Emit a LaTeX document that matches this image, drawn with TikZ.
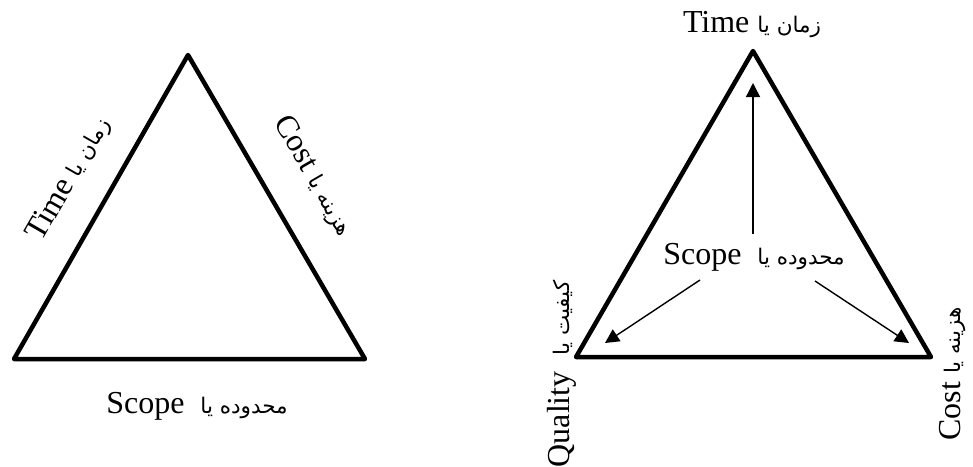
\documentclass[tikz,border=0pt]{standalone}
\usepackage{fontspec}
\setmainfont{Liberation Serif}
\newfontfamily\arabicfont[Script=Arabic]{DejaVu Sans}
\TeXXeTstate=1
\usetikzlibrary{arrows.meta}
\tikzset{
  tri/.style={line width=4.5pt, line join=round, line cap=round},
  lbl/.style={font=\fontsize{32}{35}\selectfont, inner sep=1pt},
  arr/.style={line width=1.4pt, -{Triangle[length=14pt,width=14pt]}},
}
\newcommand{\fa}[1]{{\arabicfont\fontsize{21.5}{25}\selectfont\beginR #1\endR}}
\begin{document}
\begin{tikzpicture}[x=1pt,y=-1pt]
\useasboundingbox (0,0) rectangle (973,466);
% left triangle
\coordinate (LA) at (188,55);
\coordinate (LB) at (14,359);
\coordinate (LC) at (365,359);
\draw[tri] (LA) -- (LB) -- (LC) -- cycle;
\node[lbl, rotate=60] (ltime) at (69,179) {Time \fa{زمان یا}};
\node[lbl, rotate=-60] (lcost) at (314,176) {Cost \fa{هزینه یا}};
\node[lbl] (lscope) at (197,406) {Scope\ \ \fa{محدوده یا}};
% right triangle
\coordinate (RA) at (753,51);
\coordinate (RB) at (576,357);
\coordinate (RC) at (931,357);
\draw[tri] (RA) -- (RB) -- (RC) -- cycle;
\node[lbl] (rtime) at (752,25) {Time \fa{زمان یا}};
\node[lbl] (rscope) at (754,257) {Scope\ \ \fa{محدوده یا}};
\node[lbl, rotate=90] (rqual) at (562,374) {Quality\ \ \fa{کیفیت یا}};
\node[lbl, rotate=90] (rcost) at (953,374) {Cost \fa{هزینه یا}};
\coordinate (a1s) at (753,234);
\coordinate (a1e) at (753,83);
\coordinate (a2s) at (700,280);
\coordinate (a2e) at (605,343);
\coordinate (a3s) at (815,281);
\coordinate (a3e) at (909,343);
\draw[arr] (a1s) -- (a1e);
\draw[arr] (a2s) -- (a2e);
\draw[arr] (a3s) -- (a3e);
\end{tikzpicture}
\end{document}
